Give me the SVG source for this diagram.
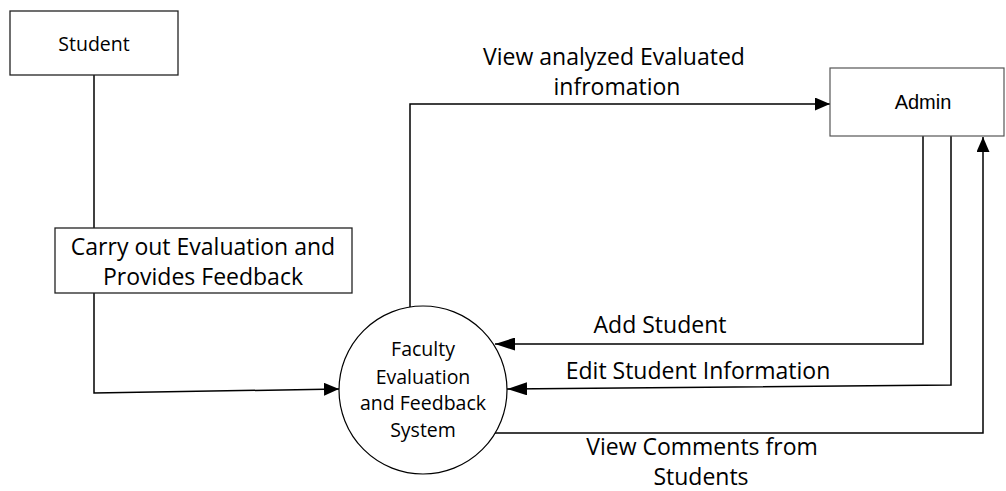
<svg xmlns="http://www.w3.org/2000/svg" width="1006" height="491" viewBox="0 0 1006 491">
<style>
.box{fill:#fff;stroke:#222;stroke-width:1.3}
.edge{fill:none;stroke:#000;stroke-width:1.5}
.lbl{font-family:"Open Sans","Liberation Sans",sans-serif;font-size:23px;fill:#000;text-anchor:middle}
.nlbl{font-family:"Open Sans","Liberation Sans",sans-serif;font-size:19.5px;fill:#000;text-anchor:middle}
.albl{font-family:"Liberation Sans","DejaVu Sans",sans-serif;font-size:20px;fill:#000;text-anchor:middle}
</style>
<defs>
<marker id="arr" viewBox="0 0 15 13" refX="15" refY="6.5" markerWidth="15" markerHeight="13" markerUnits="userSpaceOnUse" orient="auto">
<path d="M0,0 L15,6.5 L0,13 Z" fill="#000"/>
</marker>
<marker id="arrL" viewBox="0 0 20 13" refX="20" refY="6.5" markerWidth="20" markerHeight="13" markerUnits="userSpaceOnUse" orient="auto">
<path d="M0,0 L20,6.5 L0,13 Z" fill="#000"/>
</marker>
</defs>
<rect width="1006" height="491" fill="#fff"/>
<g id="connectors">
<line class="edge" x1="94" y1="75" x2="94" y2="228"/>
<path class="edge" d="M94,293 L94,393 L339,389" marker-end="url(#arr)"/>
<path class="edge" d="M410,307 L410,104 L830,104" marker-end="url(#arr)"/>
<path class="edge" d="M923,136 L923,344 L495,344" marker-end="url(#arrL)"/>
<path class="edge" d="M951,136 L951,385 L507,389" marker-end="url(#arrL)"/>
<path class="edge" d="M495,433 L983,433 L983,137" marker-end="url(#arr)"/>
<text class="lbl" x="614" y="65">View analyzed Evaluated</text>
<text class="lbl" x="617" y="95">infromation</text>
<text class="lbl" x="660" y="333">Add Student</text>
<text class="lbl" x="698" y="379">Edit Student Information</text>
<text class="lbl" x="702" y="455">View Comments from</text>
<text class="lbl" x="701" y="485">Students</text>
</g>
<g id="student">
<rect class="box" x="10" y="11" width="168" height="64"/>
<text class="nlbl" x="94" y="51">Student</text>
</g>
<g id="carry-out">
<rect class="box" x="55" y="228" width="297" height="65"/>
<text class="lbl" x="203" y="255">Carry out Evaluation and</text>
<text class="lbl" x="203" y="285">Provides Feedback</text>
</g>
<g id="system">
<circle cx="423" cy="390" r="84" fill="#fff" stroke="#000" stroke-width="1.2"/>
<text class="nlbl" x="423" y="356">Faculty</text>
<text class="nlbl" x="423" y="384">Evaluation</text>
<text class="nlbl" x="423" y="410">and Feedback</text>
<text class="nlbl" x="423" y="437">System</text>
</g>
<g id="admin">
<rect x="830" y="68" width="174" height="68" fill="#fff" stroke="#555" stroke-width="1.2"/>
<text class="albl" x="923" y="109">Admin</text>
</g>
</svg>
